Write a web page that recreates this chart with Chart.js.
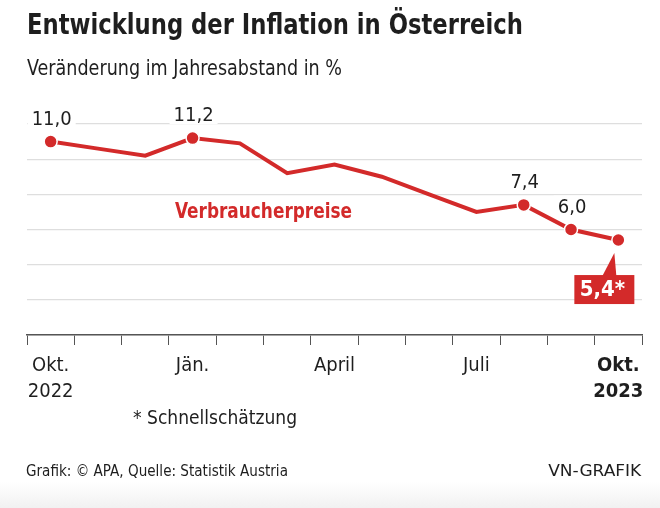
<!DOCTYPE html>
<html lang="de">
<head>
<meta charset="utf-8">
<title>Entwicklung der Inflation in Österreich</title>
<script src="https://cdn.jsdelivr.net/npm/chart.js@4.4.1/dist/chart.umd.min.js"></script>
<style>
  html, body { margin: 0; padding: 0; background: #fff; }
  body {
    width: 660px; height: 508px; position: relative; overflow: hidden;
    font-family: "Liberation Sans Narrow", "DejaVu Sans Condensed", "Roboto Condensed", Roboto, sans-serif;
    color: #1e1e1e;
    background: linear-gradient(to bottom, #fff 0, #fff 482px, #f1f1f1 508px);
  }
  #wrap { position: absolute; left: 0; top: 0; width: 660px; height: 508px; }
  .txt { position: absolute; white-space: nowrap; line-height: 1; }
  .fit { display: inline-block; transform-origin: left top; }
  .fit.right { transform-origin: right top; }
  #title { left: 27px; top: 11px; font-size: 28px; font-weight: bold; }
  #subtitle { left: 27px; top: 58px; font-size: 21px; }
  #note { left: 133px; top: 408px; font-size: 19px; }
  #source { left: 26px; top: 464px; font-size: 15.5px; }
  #vn { right: 19px; top: 464px; font-size: 15.5px; }
  #series { left: 175px; top: 200px; font-size: 22px; font-weight: bold; color: #d32a2a; }
</style>
</head>
<body>
<div id="wrap"><canvas id="inflationChart"></canvas></div>
<div class="txt" id="title"><span class="fit" data-w="496">Entwicklung der Inflation in Österreich</span></div>
<div class="txt" id="subtitle"><span class="fit" data-w="315">Veränderung im Jahresabstand in %</span></div>
<div class="txt" id="series"><span class="fit" data-w="177">Verbraucherpreise</span></div>
<div class="txt" id="note"><span class="fit" data-w="164">* Schnellschätzung</span></div>
<div class="txt" id="source"><span class="fit" data-w="262">Grafik: © APA, Quelle: Statistik Austria</span></div>
<div class="txt" id="vn"><span class="fit right" data-w="93">VN-GRAFIK</span></div>

<script>
// Monatswerte Okt. 2022 bis Okt. 2023
const months = ['Okt.', 'Nov.', 'Dez.', 'Jän.', 'Feb.', 'März', 'April', 'Mai', 'Juni', 'Juli', 'Aug.', 'Sep.', 'Okt.'];
const years  = ['2022', '', '', '', '', '', '', '', '', '', '', '', '2023'];
const shownMonths = [0, 3, 6, 9, 12];          // beschriftete Monate auf der x-Achse
const cpi = [11.0, 10.6, 10.2, 11.2, 10.9, 9.2, 9.7, 9.0, 8.0, 7.0, 7.4, 6.0, 5.4];
const labelled = [0, 3, 10, 11];               // Punkte mit Wertbeschriftung
const flashIndex = 12;                         // Schnellschätzung
const yTicks = [0, 2, 4, 6, 8, 10, 12];

const RED = '#d32a2a';
const FONT = '"Liberation Sans Narrow", "DejaVu Sans Condensed", "Roboto Condensed", Roboto, sans-serif';

const fmt = v => v.toFixed(1).replace('.', ',');

// Beschriftungen an den Punkten + Kasten fuer den letzten Wert
const valueLabels = {
    id: 'valueLabels',
    afterDatasetsDraw(chart) {
        const { ctx } = chart;
        const meta = chart.getDatasetMeta(0);
        ctx.save();
        ctx.font = '20px ' + FONT;
        ctx.textAlign = 'center';
        ctx.textBaseline = 'alphabetic';
        labelled.forEach(i => {
            const pt = meta.data[i];
            const text = fmt(cpi[i]);
            const w = ctx.measureText(text).width;
            const x = pt.x + 1, y = pt.y - 17;
            ctx.fillStyle = '#fff';
            ctx.fillRect(x - w / 2 - 4, y - 17, w + 8, 20);
            ctx.fillStyle = '#1e1e1e';
            ctx.fillText(text, x, y);
        });

        // roter Kasten mit Spitze
        const p = meta.data[flashIndex];
        const bx = p.x - 44, by = p.y + 35, bw = 60, bh = 29;
        ctx.fillStyle = RED;
        ctx.beginPath();
        ctx.moveTo(p.x - 16, by + 1);
        ctx.lineTo(p.x - 4, p.y + 13);
        ctx.lineTo(p.x - 2, by + 1);
        ctx.closePath();
        ctx.fill();
        ctx.fillRect(bx, by, bw, bh);
        ctx.fillStyle = '#fff';
        ctx.font = 'bold 22px ' + FONT;
        ctx.textBaseline = 'middle';
        ctx.fillText(fmt(cpi[flashIndex]) + '*', bx + bw / 2 - 2, by + bh / 2 + 1);
        ctx.restore();
    }
};

const canvas = document.getElementById('inflationChart');

new Chart(canvas, {
    type: 'line',
    data: {
        labels: months.map((m, i) => [m, years[i]]),
        datasets: [{
            label: 'Verbraucherpreise',
            data: cpi,
            borderColor: RED,
            borderWidth: 4,
            tension: 0,
            pointRadius: ctx => (labelled.includes(ctx.dataIndex) || ctx.dataIndex === flashIndex) ? 6.5 : 0,
            pointHoverRadius: 0,
            pointBackgroundColor: RED,
            pointBorderColor: '#fff',
            pointBorderWidth: 1.5,
            clip: false
        }]
    },
    options: {
        responsive: true,
        maintainAspectRatio: false,
        animation: false,
        layout: { padding: { left: 27, right: 18, top: 124, bottom: 93 } },
        plugins: {
            legend: { display: false },
            tooltip: { enabled: false }
        },
        scales: {
            x: {
                offset: true,
                grid: {
                    offset: true,
                    drawOnChartArea: false,
                    drawTicks: true,
                    tickLength: 10,
                    color: '#555',
                    lineWidth: 1
                },
                border: { display: true, color: '#555', width: 1.5 },
                ticks: {
                    autoSkip: false,
                    maxRotation: 0,
                    padding: 8,
                    color: '#1e1e1e',
                    font: ctx => ({ family: FONT, size: 20, lineHeight: '26px', weight: ctx.index === 12 ? 'bold' : 'normal' }),
                    callback: (v, i) => shownMonths.includes(i) ? [months[i], years[i]].filter(Boolean) : ''
                },
                afterFit: scale => { scale.height = 80; }
            },
            y: {
                min: yTicks[0],
                max: yTicks[yTicks.length - 1],
                afterBuildTicks: scale => { scale.ticks = yTicks.map(v => ({ value: v })); },
                grid: { color: '#dedede', lineWidth: 1.2, drawTicks: false },
                border: { display: false },
                ticks: { display: false },
                afterFit: scale => { scale.width = 0; }
            }
        }
    },
    plugins: [valueLabels]
});

// Schriftbreiten an die Vorlage anpassen
document.querySelectorAll('.fit').forEach(el => {
    const target = +el.dataset.w;
    const w = el.getBoundingClientRect().width;
    if (w > 0) el.style.transform = 'scaleX(' + (target / w).toFixed(3) + ')';
});
</script>
</body>
</html>
